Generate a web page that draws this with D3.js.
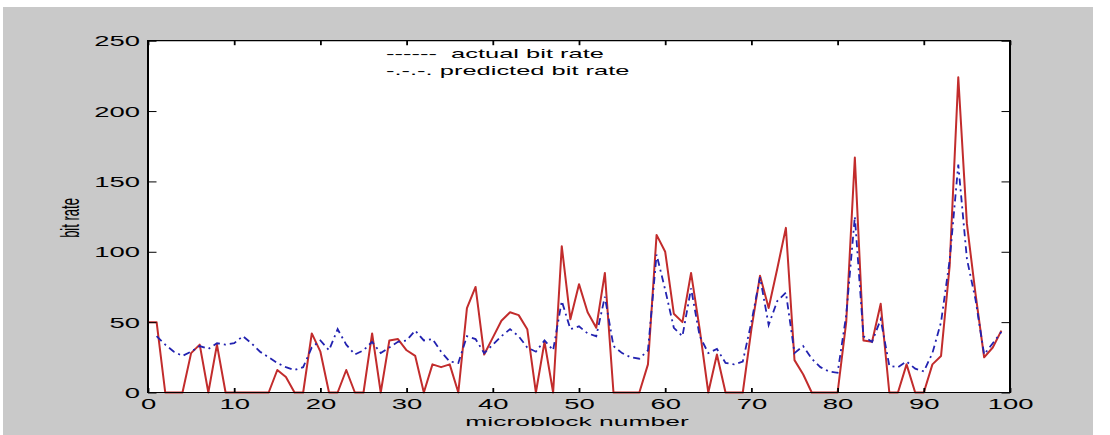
<!DOCTYPE html>
<html>
<head>
<meta charset="utf-8">
<script src="https://cdn.jsdelivr.net/npm/d3@7"></script>
<style>
  html, body { margin: 0; padding: 0; background: #fff; }
  svg { display: block; }
  text { font-family: "Liberation Sans", Arial, sans-serif; fill: #000; white-space: pre; }
</style>
</head>
<body>
<svg id="chart" width="1110" height="435"></svg>
<script>
// microblock values (index = microblock number)
const actualRate = [
  50, 50, 0, 0, 0, 28, 34, 0, 34, 0,
  0, 0, 0, 0, 0, 16, 11, 0, 0, 42,
  29, 0, 0, 16, 0, 0, 42, 0, 37, 38,
  30, 26, 0, 20, 18, 20, 0, 60, 75, 27,
  39, 51, 57, 55, 45, 0, 36, 0, 104, 52,
  77, 57, 46, 85, 0, 0, 0, 0, 20, 112,
  100, 56, 50, 85, 45, 0, 27, 0, 0, 0,
  45, 83, 60, 88, 117, 23, 13, 0, 0, 0,
  0, 50, 167, 37, 36, 63, 0, 0, 20, 0,
  0, 20, 26, 90, 224, 120, 70, 25, 32, 44
];

const predictedRate = [
  null, 40, 34, 29, 26, 29, 33, 31, 35, 34,
  35, 40, 35, 29, 25, 21, 18, 16, 18, 32,
  37, 30, 45, 34, 27, 30, 36, 28, 32, 36,
  37, 44, 37, 38, 29, 22, 21, 40, 38, 28,
  34, 40, 45, 40, 32, 29, 37, 30, 65, 45,
  47, 42, 40, 68, 33, 28, 25, 24, 30, 98,
  73, 46, 40, 74, 40, 28, 31, 21, 20, 22,
  50, 82, 48, 65, 71, 28, 33, 24, 18, 15,
  14, 55, 125, 40, 36, 52, 19, 18, 22, 17,
  15, 28, 50, 94, 162, 95, 66, 27, 35, 43
];

const xTicks = [0, 10, 20, 30, 40, 50, 60, 70, 80, 90, 100];
const yTicks = [0, 50, 100, 150, 200, 250];
const legendLines = ["------  actual bit rate", "-.-.-. predicted bit rate"];

// the picture is stretched sideways, so text is widened to match
const SX = 1.96;

const svg = d3.select("#chart");

// figure background
svg.append("rect")
  .attr("x", 3).attr("y", 7)
  .attr("width", 1090).attr("height", 428)
  .attr("fill", "#c9c9c9");

const x = d3.scaleLinear().domain([0, 100]).range([148, 1010]);
const y = d3.scaleLinear().domain([0, 250]).range([392.5, 40.7]);

// plot area
svg.append("rect")
  .attr("x", x(0)).attr("y", y(250))
  .attr("width", x(100) - x(0)).attr("height", y(0) - y(250))
  .attr("fill", "#fff");

// data lines
const actualLine = d3.line()
  .x((d, i) => x(i))
  .y(d => y(d));

const predictedLine = d3.line()
  .defined(d => d !== null)
  .x((d, i) => x(i))
  .y(d => y(d));

svg.append("path")
  .datum(actualRate)
  .attr("fill", "none")
  .attr("stroke", "#c22c2c")
  .attr("stroke-width", 2)
  .attr("stroke-linejoin", "round")
  .attr("d", actualLine);

svg.append("path")
  .datum(predictedRate)
  .attr("fill", "none")
  .attr("stroke", "#2222b0")
  .attr("stroke-width", 1.8)
  .attr("stroke-dasharray", "7,4,2,4")
  .attr("d", predictedLine);

// axes with inward ticks on all four sides
const bottomAxis = svg.append("g")
  .attr("transform", `translate(0,${y(0)})`)
  .call(d3.axisBottom(x).tickValues(xTicks).tickSizeInner(-4.5).tickSizeOuter(0));

const topAxis = svg.append("g")
  .attr("transform", `translate(0,${y(250)})`)
  .call(d3.axisTop(x).tickValues(xTicks).tickSizeInner(-4.5).tickSizeOuter(0).tickFormat(""));

const leftAxis = svg.append("g")
  .attr("transform", `translate(${x(0)},0)`)
  .call(d3.axisLeft(y).tickValues(yTicks).tickSizeInner(-8.5).tickSizeOuter(0));

const rightAxis = svg.append("g")
  .attr("transform", `translate(${x(100)},0)`)
  .call(d3.axisRight(y).tickValues(yTicks).tickSizeInner(-8.5).tickSizeOuter(0).tickFormat(""));

[bottomAxis, topAxis, leftAxis, rightAxis].forEach(g => {
  g.select(".domain").remove();
  g.selectAll("line").attr("stroke", "#000");
});
bottomAxis.selectAll("line").attr("stroke-width", 1.8);
topAxis.selectAll("line").attr("stroke-width", 1.8);

bottomAxis.selectAll("text")
  .attr("y", 16.5)
  .attr("dy", 0)
  .attr("transform", `scale(${SX},1)`)
  .style("font-size", "14px");

leftAxis.selectAll("text")
  .attr("x", -8 / SX)
  .attr("dy", "0.36em")
  .attr("transform", `scale(${SX},1)`)
  .style("font-size", "14px");

// box
svg.append("line")
  .attr("x1", x(0)).attr("x2", x(100)).attr("y1", y(250)).attr("y2", y(250))
  .attr("stroke", "#000").attr("stroke-width", 1.2);
svg.append("line")
  .attr("x1", x(0)).attr("x2", x(100)).attr("y1", y(0)).attr("y2", y(0))
  .attr("stroke", "#000").attr("stroke-width", 1.2);
svg.append("line")
  .attr("x1", x(0)).attr("x2", x(0)).attr("y1", y(250) - 0.6).attr("y2", y(0) + 0.6)
  .attr("stroke", "#000").attr("stroke-width", 2);
svg.append("line")
  .attr("x1", x(100)).attr("x2", x(100)).attr("y1", y(250) - 0.6).attr("y2", y(0) + 0.6)
  .attr("stroke", "#000").attr("stroke-width", 2);

// axis labels
svg.append("g")
  .attr("transform", `translate(${(x(0) + x(100)) / 2 - 2},426) scale(${SX},1)`)
  .append("text")
    .attr("text-anchor", "middle")
    .style("font-size", "13.5px")
    .text("microblock number");

svg.append("g")
  .attr("transform", `translate(79,218) scale(${SX},1) rotate(-90)`)
  .append("text")
    .attr("text-anchor", "middle")
    .style("font-size", "13px")
    .text("bit rate");

// legend (text only, as in the original)
svg.append("g")
  .selectAll("g")
  .data(legendLines)
  .join("g")
    .attr("transform", (d, i) => `translate(386,${57.5 + i * 17}) scale(${SX},1)`)
  .append("text")
    .style("font-size", "13px")
    .text(d => d);
</script>
</body>
</html>
